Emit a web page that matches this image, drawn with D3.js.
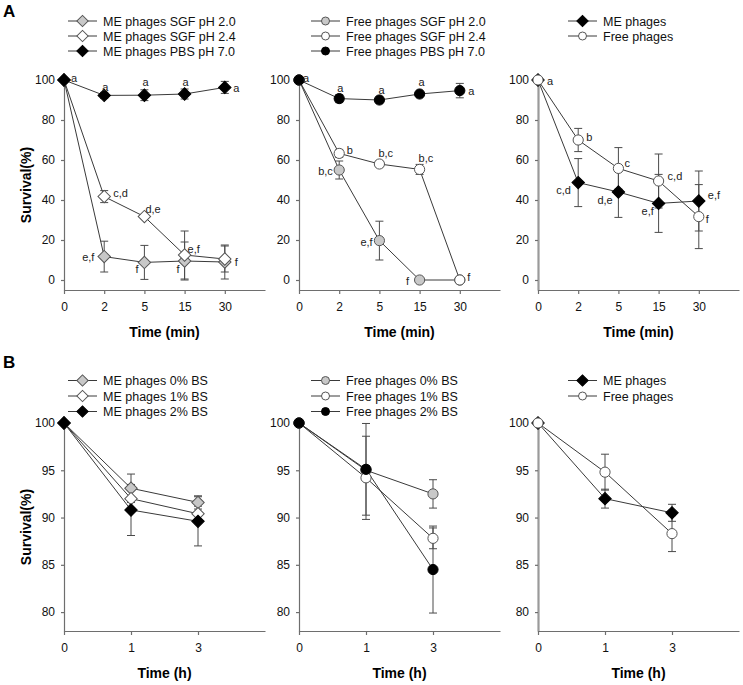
<!DOCTYPE html>
<html><head><meta charset="utf-8">
<script src="https://cdn.jsdelivr.net/npm/d3@7"></script>
<style>body{margin:0;background:#fff}svg text{font-family:Arial,"Liberation Sans",sans-serif}</style>
</head><body><svg id="c" width="743" height="685"></svg>
<script>
// ---------- data ----------
const timeMin = ["0", "2", "5", "15", "30"];
const timeH = ["0", "1", "3"];
const yTicksA = [0, 20, 40, 60, 80, 100];
const yTicksB = [80, 85, 90, 95, 100];

// Panel A1 (ME phages)
const meSGF20 = [100, 11.7, 8.8, 9.5, 9];      const meSGF20Err = [0, 7.7, 8.5, 9.5, 8.5];
const meSGF24 = [100, 41.7, 31.7, 12.5, 10.5]; const meSGF24Err = [0, 3, 1, 12, 6.5];
const mePBS   = [100, 92.3, 92.4, 93, 96.3];   const mePBSErr   = [0, 1.5, 2.7, 2.5, 3];
// Panel A2 (Free phages)
const freeSGF20 = [100, 55, 19.7, 0, 0];       const freeSGF20Err = [0, 4.5, 9.7, 0, 0];
const freeSGF24 = [100, 63.3, 58, 55.3, 0];    const freeSGF24Err = [0, 2, 1.5, 2.5, 0];
const freePBS   = [100, 90.7, 90, 93, 94.7];   const freePBSErr   = [0, 2, 1.5, 1, 3.6];
// Panel A3
const meA   = [100, 48.7, 44, 38.3, 39.5];     const meAErr   = [0, 12, 12.7, 14.5, 15];
const freeA = [100, 70, 55.8, 49.5, 31.7];     const freeAErr = [0, 5.8, 10.4, 13.5, 16];
// Panel B1
const meBS0 = [100, 93.1, 91.6]; const meBS0Err = [0, 1.5, 0.7];
const meBS1 = [100, 92, 90.4];   const meBS1Err = [0, 1, 0.8];
const meBS2 = [100, 90.8, 89.6]; const meBS2Err = [0, 2.7, 2.6];
// Panel B2
const freeBS0 = [100, 95, 92.5];   const freeBS0Err = [0, 0.5, 1.5];
const freeBS1 = [100, 94.2, 87.8]; const freeBS1Err = [0, 4.4, 1.1];
const freeBS2 = [100, 95.1, 84.5]; const freeBS2Err = [0, 4.85, 4.6];
// Panel B3
const meB   = [100, 92, 90.5];   const meBErr   = [0, 1, 0.9];
const freeB = [100, 94.8, 88.3]; const freeBErr = [0, 1.9, 1.9];

// significance letters: [series index, point index, text]
const lettersA1 = [[2,0,"a"],[2,1,"a"],[2,2,"a"],[2,3,"a"],[2,4,"a"],[1,1,"c,d"],[1,2,"d,e"],[0,1,"e,f"],[0,2,"f"],[1,3,"e,f"],[0,3,"f"],[1,4,"f"]];
const lettersA2 = [[2,0,"a"],[2,1,"a"],[2,2,"a"],[2,3,"a"],[2,4,"a"],[1,1,"b"],[1,2,"b,c"],[1,3,"b,c"],[0,1,"b,c"],[0,2,"e,f"],[0,3,"f"],[1,4,"f"]];
const lettersA3 = [[1,0,"a"],[1,1,"b"],[1,2,"c"],[1,3,"c,d"],[0,1,"c,d"],[0,2,"d,e"],[0,3,"e,f"],[0,4,"e,f"],[1,4,"f"]];

// ---------- styling / layout ----------
const lineCol = "#3a3a3a", errCol = "#4a4a4a", axisCol = "#6e6e6e";
const sty = {
  grayD:  {shape: "d", fill: "#c8c8c8", stroke: "#555"},
  whiteD: {shape: "d", fill: "#fff",    stroke: "#555"},
  blackD: {shape: "d", fill: "#000",    stroke: "#000"},
  grayC:  {shape: "c", fill: "#c8c8c8", stroke: "#555"},
  whiteC: {shape: "c", fill: "#fff",    stroke: "#555"},
  blackC: {shape: "c", fill: "#000",    stroke: "#000"}
};
// letter offsets (dx to text start, dy to text centre) from the marker centre, parallel to the letters arrays
const offA1 = [[7,-2],[-2,-8],[-2,-13],[-2,-12],[8.5,1],[9,-4],[1,-8],[-22,0],[-9,7],[3,-6],[-8,7.5],[10,3]];
const offA2 = [[4,-2],[-2,-11],[-1,-10],[-1,-12],[8.5,0],[7.5,-3.5],[-1,-11],[-1,-11],[-21,1],[-19,1.7],[-13.5,1],[7.5,-3.3]];
const offA3 = [[9,1],[8,-3],[6,-5],[9,-5],[-22,7],[-21,8],[-17,8],[9,-6],[7,2]];

const svg = d3.select("#c");
const colX = [64, 299, 538];
const legX = [68, 311, 568];

function marker(g, st, cx, cy, big) {
  if (st.shape === "d") {
    const s = big ? 8.8 : 8;
    g.append("rect").attr("x", -s / 2).attr("y", -s / 2).attr("width", s).attr("height", s)
      .attr("transform", `translate(${cx},${cy}) rotate(45)`)
      .attr("fill", st.fill).attr("stroke", st.stroke).attr("stroke-width", 1);
  } else {
    g.append("circle").attr("cx", cx).attr("cy", cy).attr("r", big ? 5.1 : 4)
      .attr("fill", st.fill).attr("stroke", st.stroke).attr("stroke-width", 1);
  }
}

function panel(cfg) {
  const g = svg.append("g");
  const n = cfg.cats.length;
  const x = d3.scaleLinear().domain(cfg.xDomain).range([cfg.x0, cfg.x0 + 201]);
  const y = d3.scaleLinear().domain(cfg.yDomain).range(cfg.yRange);

  const ya = g.append("g").attr("transform", `translate(${cfg.x0},0)`)
    .call(d3.axisLeft(y).tickValues(cfg.yTicks).tickSize(3).tickSizeOuter(0).tickPadding(6));
  const xa = g.append("g").attr("transform", `translate(0,${cfg.yRange[0]})`)
    .call(d3.axisBottom(x).tickValues(d3.range(n)).tickFormat(i => cfg.cats[i]).tickSize(4).tickSizeOuter(0).tickPadding(8));
  [ya, xa].forEach(a => {
    a.selectAll("path,line").attr("stroke", axisCol).attr("stroke-width", 1.2);
    a.selectAll("text").attr("font-size", 12).attr("fill", "#111");
  });
  if (cfg.thickY) ya.select("path.domain").attr("stroke", "#9a9a9a").attr("stroke-width", 2.2);

  g.append("text").attr("x", cfg.x0 + 100.5).attr("y", cfg.yRange[0] + 47)
    .attr("text-anchor", "middle").attr("font-size", 14).attr("font-weight", "bold").text(cfg.xTitle);

  const line = d3.line().x((d, i) => x(i)).y(d => y(d));
  cfg.series.forEach(s => {
    g.append("path").attr("d", line(s.v)).attr("fill", "none").attr("stroke", lineCol).attr("stroke-width", 1);
  });
  cfg.series.forEach(s => {
    s.v.forEach((v, i) => {
      const e = s.e[i];
      if (!e) return;
      const xi = x(i);
      g.append("line").attr("x1", xi).attr("x2", xi).attr("y1", y(v - e)).attr("y2", y(v + e)).attr("stroke", errCol);
      [v - e, v + e].forEach(t => g.append("line").attr("x1", xi - 4).attr("x2", xi + 4)
        .attr("y1", y(t)).attr("y2", y(t)).attr("stroke", errCol));
    });
  });
  cfg.series.forEach(s => {
    const st = sty[s.style];
    s.v.forEach((v, i) => marker(g, st, x(i), y(v), true));
  });
  (cfg.letters || []).forEach((L, k) => {
    const s = cfg.series[L[0]];
    const o = cfg.offs[k];
    g.append("text").attr("x", x(L[1]) + o[0]).attr("y", y(s.v[L[1]]) + o[1] + 4)
      .attr("font-size", 11).attr("fill", "#222").text(L[2]);
  });
  // legend
  cfg.series.forEach((s, k) => {
    const st = sty[s.style];
    const yy = cfg.legY + k * cfg.legDy;
    const lx = cfg.legX;
    g.append("line").attr("x1", lx).attr("x2", lx + 29).attr("y1", yy).attr("y2", yy).attr("stroke", lineCol);
    marker(g, st, lx + 14.5, yy, false);
    g.append("text").attr("x", lx + 35).attr("y", yy + 4.5).attr("font-size", 12.5).attr("fill", "#111").text(s.name);
  });
}

const rowA = {cats: timeMin, xDomain: [0, 5], yDomain: [-5, 100], yRange: [290, 80], yTicks: yTicksA, xTitle: "Time (min)", legY: 21, legDy: 15};
const rowB = {cats: timeH, xDomain: [0, 3], yDomain: [78, 100], yRange: [631, 423], yTicks: yTicksB, xTitle: "Time (h)", legY: 380.5, legDy: 15.5};

panel({...rowA, x0: colX[0], legX: legX[0], letters: lettersA1, offs: offA1, series: [
  {name: "ME phages SGF pH 2.0", v: meSGF20, e: meSGF20Err, style: "grayD"},
  {name: "ME phages SGF pH 2.4", v: meSGF24, e: meSGF24Err, style: "whiteD"},
  {name: "ME phages PBS pH 7.0", v: mePBS, e: mePBSErr, style: "blackD"}]});
panel({...rowA, x0: colX[1], legX: legX[1], letters: lettersA2, offs: offA2, series: [
  {name: "Free phages SGF pH 2.0", v: freeSGF20, e: freeSGF20Err, style: "grayC"},
  {name: "Free phages SGF pH 2.4", v: freeSGF24, e: freeSGF24Err, style: "whiteC"},
  {name: "Free phages PBS pH 7.0", v: freePBS, e: freePBSErr, style: "blackC"}]});
panel({...rowA, x0: colX[2], legX: legX[2], letters: lettersA3, offs: offA3, thickY: true, series: [
  {name: "ME phages", v: meA, e: meAErr, style: "blackD"},
  {name: "Free phages", v: freeA, e: freeAErr, style: "whiteC"}]});

panel({...rowB, x0: colX[0], legX: legX[0], series: [
  {name: "ME phages 0% BS", v: meBS0, e: meBS0Err, style: "grayD"},
  {name: "ME phages 1% BS", v: meBS1, e: meBS1Err, style: "whiteD"},
  {name: "ME phages 2% BS", v: meBS2, e: meBS2Err, style: "blackD"}]});
panel({...rowB, x0: colX[1], legX: legX[1], series: [
  {name: "Free phages 0% BS", v: freeBS0, e: freeBS0Err, style: "grayC"},
  {name: "Free phages 1% BS", v: freeBS1, e: freeBS1Err, style: "whiteC"},
  {name: "Free phages 2% BS", v: freeBS2, e: freeBS2Err, style: "blackC"}]});
panel({...rowB, x0: colX[2], legX: legX[2], thickY: true, series: [
  {name: "ME phages", v: meB, e: meBErr, style: "blackD"},
  {name: "Free phages", v: freeB, e: freeBErr, style: "whiteC"}]});

// y titles and panel letters
[[185, 31], [527, 31]].forEach(([cy, cx]) => {
  svg.append("text").attr("transform", `translate(${cx},${cy}) rotate(-90)`)
    .attr("text-anchor", "middle").attr("font-size", 14).attr("font-weight", "bold").text("Survival(%)");
});
svg.append("text").attr("x", 3).attr("y", 17).attr("font-size", 17).attr("font-weight", "bold").text("A");
svg.append("text").attr("x", 3).attr("y", 368).attr("font-size", 17).attr("font-weight", "bold").text("B");
</script></body></html>
